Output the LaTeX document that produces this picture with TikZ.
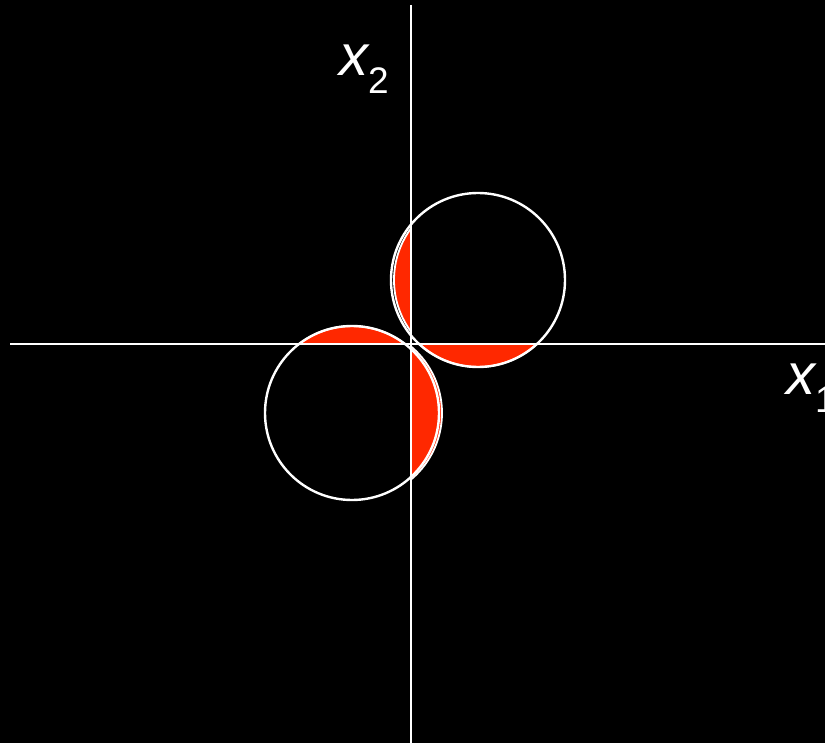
\documentclass[tikz,border=0pt]{standalone}
\usepackage{fontspec}
\setmainfont{Liberation Sans}
\definecolor{segred}{RGB}{255,40,0}
\usetikzlibrary{positioning}

\begin{document}
\begin{tikzpicture}[x=1pt, y=-1pt,
  axisline/.style={draw=white, line width=2.2pt},
  ring/.style={draw=white, line width=2.4pt},
  segfill/.style={fill=segred, draw=white, line width=1.8pt},
  axlabel/.style={text=white, inner sep=0pt, anchor=base west,
    font=\fontsize{58}{60}\selectfont}
]
\fill[black] (0,0) rectangle (825,743);
\useasboundingbox (0,0) rectangle (825,743);

% red caps cut off by the axes
\begin{scope}
  \clip (0,0) rectangle (411,743);
  \filldraw[segfill] (481,280) circle[radius=87];
\end{scope}
\begin{scope}
  \clip (0,344) rectangle (825,743);
  \filldraw[segfill] (478,280) circle[radius=87];
\end{scope}
\begin{scope}
  \clip (0,0) rectangle (825,344);
  \filldraw[segfill] (352,413) circle[radius=87];
\end{scope}
\begin{scope}
  \clip (411,0) rectangle (825,743);
  \filldraw[segfill] (355,413) circle[radius=87];
\end{scope}

% circles
\draw[ring] (478,280) circle[radius=87];
\draw[ring] (352,413) circle[radius=87];

% axes
\coordinate (xl) at (10,344);
\coordinate (xr) at (825,344);
\coordinate (yt) at (411,5);
\coordinate (yb) at (411,743);
\draw[axisline] (xl) -- (xr);
\draw[axisline] (yt) -- (yb);

\node[axlabel] (lx2) at (339,76)
  {\itshape x\upshape\raisebox{-0.3em}{\fontsize{37}{40}\selectfont 2}};
\node[axlabel] (lx1) at (786,395)
  {\itshape x\upshape\raisebox{-0.3em}{\fontsize{37}{40}\selectfont 1}};
\end{tikzpicture}
\end{document}
